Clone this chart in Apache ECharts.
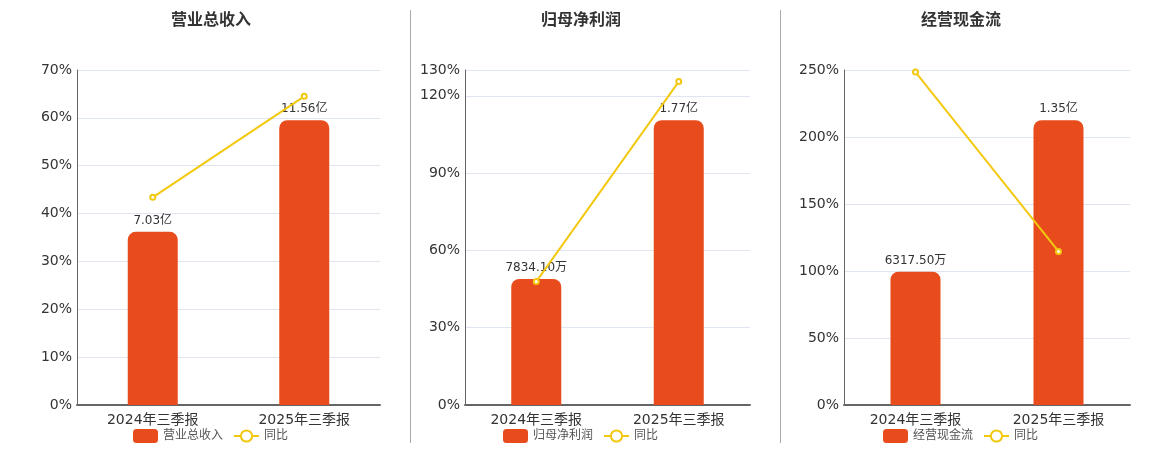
<!DOCTYPE html>
<html>
<head>
<meta charset="utf-8">
<script src="https://cdn.jsdelivr.net/npm/echarts@6/dist/echarts.min.js"></script>
<style>
  html, body { margin: 0; padding: 0; background: #fff; }
  #main { width: 1160px; height: 450px; }
</style>
</head>
<body>
<div id="main"></div>
<script>
// categories shared by all three panels
const categories = ['2024年三季报', '2025年三季报']

const titles = ['营业总收入', '归母净利润', '经营现金流']

// bar values (亿), labels as shown, 同比 (%)
const revenue = [7.03, 11.56]
const revenueLabels = ['7.03亿', '11.56亿']
const revenueYoy = [43.4, 64.5]

const profit = [0.783410, 1.77]
const profitLabels = ['7834.10万', '1.77亿']
const profitYoy = [47.9, 125.5]

const cash = [0.631750, 1.35]
const cashLabels = ['6317.50万', '1.35亿']
const cashYoy = [248.5, 114.6]

// percent axis ticks
const pctMax = [70, 130, 250]
const pctInterval = [10, 30, 50]

const panels = [
  { bars: revenue, labels: revenueLabels, yoy: revenueYoy },
  { bars: profit, labels: profitLabels, yoy: profitYoy },
  { bars: cash, labels: cashLabels, yoy: cashYoy }
]

const gridPos = [
  { left: 77, width: 303 },
  { left: 465, width: 285 },
  { left: 844, width: 286 }
]
const titleLeft = [171, 541, 921]
const legendLeft = [133, 503, 883]

const font = 'DejaVu Sans, Noto Sans CJK SC, sans-serif'
const barColor = '#E84C1C'
const lineColor = '#F2C811'

let option = {
  textStyle: { fontFamily: font },
  animation: false,
  title: [],
  legend: [],
  grid: [],
  xAxis: [],
  yAxis: [],
  series: [],
  graphic: [
    { type: 'line', shape: { x1: 410.5, y1: 10, x2: 410.5, y2: 443 }, style: { stroke: '#aaa', lineWidth: 1 } },
    { type: 'line', shape: { x1: 780.5, y1: 10, x2: 780.5, y2: 443 }, style: { stroke: '#aaa', lineWidth: 1 } }
  ]
}

panels.forEach((p, i) => {
  option.title.push({
    text: titles[i],
    left: titleLeft[i],
    top: 13,
    padding: 0,
    textStyle: { fontSize: 16, fontWeight: 'bold', color: '#333', fontFamily: font }
  })
  option.legend.push({
    left: legendLeft[i],
    top: 429,
    padding: 0,
    itemWidth: 25,
    itemHeight: 14,
    itemGap: 10,
    textStyle: { fontSize: 12, color: '#555', fontFamily: font },
    data: [
      { name: titles[i], icon: 'roundRect' },
      { name: '同比' }
    ]
  })
  option.grid.push({ left: gridPos[i].left, width: gridPos[i].width, top: 70, height: 335 })
  option.xAxis.push({
    type: 'category',
    gridIndex: i,
    data: categories,
    axisLine: { lineStyle: { color: '#666', width: 2 } },
    axisTick: { lineStyle: { color: '#666' } },
    axisLabel: { fontSize: 14, color: '#333', margin: 8, fontFamily: font }
  })
  option.yAxis.push({
    type: 'value',
    gridIndex: i,
    min: 0,
    max: pctMax[i],
    interval: pctInterval[i],
    axisLine: { show: true, lineStyle: { color: '#666' } },
    axisTick: { show: false },
    axisLabel: { formatter: '{value}%', fontSize: 14, color: '#333', margin: 5, fontFamily: font },
    splitLine: { lineStyle: { color: '#e0e6f1' } }
  })
  option.yAxis.push({
    type: 'value',
    gridIndex: i,
    min: 0,
    max: Math.max(...p.bars) / 0.85,
    show: false,
    splitLine: { show: false }
  })
  option.series.push({
    name: titles[i],
    type: 'bar',
    xAxisIndex: i,
    yAxisIndex: i * 2 + 1,
    data: p.bars,
    barWidth: 50,
    itemStyle: { color: barColor, borderRadius: [8, 8, 0, 0] },
    label: {
      show: true,
      position: 'top',
      distance: 5,
      fontSize: 12,
      color: '#333',
      fontFamily: font,
      formatter: (d) => p.labels[d.dataIndex]
    }
  })
  option.series.push({
    name: '同比',
    type: 'line',
    xAxisIndex: i,
    yAxisIndex: i * 2,
    data: p.yoy,
    symbol: 'emptyCircle',
    symbolSize: 5,
    lineStyle: { color: lineColor, width: 2 },
    itemStyle: { color: lineColor }
  })
})

const chart = echarts.init(document.getElementById('main'))
chart.setOption(option)
</script>
</body>
</html>
